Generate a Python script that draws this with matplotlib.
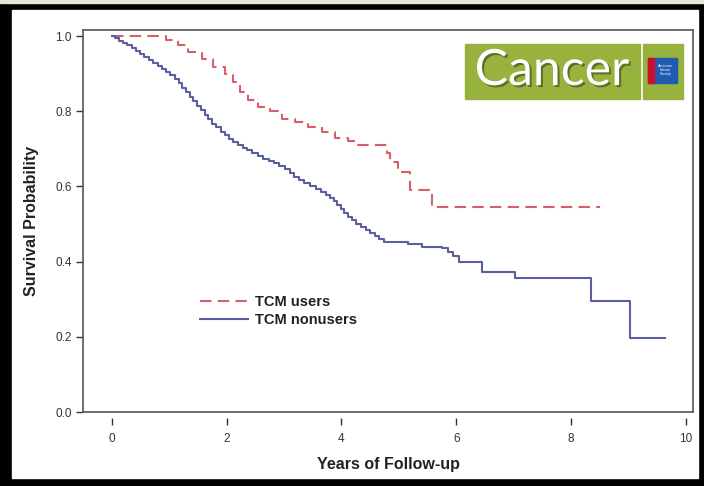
import matplotlib
matplotlib.use("Agg")
import matplotlib.pyplot as plt
import matplotlib.patheffects as pe
from matplotlib.patches import Rectangle

plt.rcParams['font.family'] = ['Liberation Sans', 'DejaVu Sans']

# Kaplan-Meier steps
users_t = [0, 0.95, 1.15, 1.32, 1.57, 1.76, 1.97, 2.11, 2.23, 2.37, 2.54, 2.75, 2.96,
           3.19, 3.41, 3.66, 3.89, 4.11, 4.23, 4.79, 4.84, 4.98, 5.19, 5.57, 8.5]
users_s = [1.0, 0.99, 0.975, 0.957, 0.94, 0.917, 0.90, 0.877, 0.85, 0.83, 0.81, 0.80, 0.78,
           0.77, 0.757, 0.744, 0.73, 0.72, 0.71, 0.69, 0.665, 0.637, 0.59, 0.545, 0.545]

nonusers_t = [0, 0.05, 0.12, 0.2, 0.27, 0.35, 0.42, 0.5, 0.57, 0.65, 0.72, 0.8, 0.87, 0.95,
              1.02, 1.1, 1.17, 1.23, 1.3, 1.36, 1.42, 1.48, 1.55, 1.62, 1.68, 1.75, 1.82, 1.9,
              1.97, 2.05, 2.12, 2.2, 2.28, 2.36, 2.45, 2.55, 2.64, 2.73, 2.82, 2.92, 3.02, 3.1,
              3.18, 3.26, 3.35, 3.45, 3.55, 3.64, 3.73, 3.8, 3.87, 3.93, 3.99, 4.05, 4.11, 4.18,
              4.26, 4.34, 4.42, 4.5, 4.58, 4.66, 4.74, 5.16, 5.4, 5.75, 5.85, 5.95, 6.05, 6.45,
              7.02, 8.34, 9.02, 9.63]
nonusers_s = [1.0, 0.995, 0.988, 0.982, 0.975, 0.968, 0.96, 0.952, 0.944, 0.936, 0.928, 0.92,
              0.912, 0.903, 0.895, 0.885, 0.874, 0.862, 0.85, 0.838, 0.826, 0.814, 0.802, 0.79,
              0.778, 0.767, 0.757, 0.746, 0.736, 0.726, 0.718, 0.711, 0.703, 0.696, 0.689,
              0.681, 0.674, 0.667, 0.661, 0.654, 0.646, 0.636, 0.626, 0.616, 0.608, 0.601,
              0.594, 0.586, 0.578, 0.57, 0.56, 0.55, 0.54, 0.53, 0.519, 0.51, 0.5, 0.492,
              0.484, 0.476, 0.468, 0.46, 0.453, 0.446, 0.44, 0.435, 0.425, 0.415, 0.40, 0.372,
              0.356, 0.295, 0.196, 0.196]

x_ticks = [0, 2, 4, 6, 8, 10]
y_ticks = [0.0, 0.2, 0.4, 0.6, 0.8, 1.0]

W, H = 704, 486
fig = plt.figure(figsize=(7.04, 4.86), dpi=100, facecolor="black")

def px(x0, y0, x1, y1):
    # pixel box -> figure fraction (left, bottom, width, height)
    return x0 / W, 1 - y1 / H, (x1 - x0) / W, (y1 - y0) / H

def add_box(box, color, z):
    l, b, w, h = px(*box)
    fig.patches.append(Rectangle((l, b), w, h, transform=fig.transFigure, color=color, zorder=z))

add_box((0, 0, W, 3), "#e6e6dc", -10)
add_box((12, 10, 698, 478), "white", -10)

ax = fig.add_axes(px(83, 30, 693, 412))
ax.set_facecolor("none")

red = "#d65f6b"
blue = "#5a5f9f"
ax.step(users_t, users_s, where="post", color=red, lw=1.5, dashes=(5.5, 3), label="TCM users")
ax.step(nonusers_t, nonusers_s, where="post", color=blue, lw=1.5, label="TCM nonusers")

ax.set_xlim(-0.5, 10.12)
ax.set_ylim(0, 1.016)
ax.set_xticks(x_ticks)
ax.set_xticklabels([str(v) for v in x_ticks])
ax.set_yticks(y_ticks)
ax.set_yticklabels([f"{v:.1f}" for v in y_ticks])

for s in ax.spines.values():
    s.set_color("#555555")
    s.set_linewidth(1.2)
ax.spines["bottom"].set_position(("outward", 4))
ax.spines["bottom"].set_visible(False)
ax.axhline(0, color="#555555", lw=1.2, clip_on=False, zorder=5)

ax.tick_params(axis="both", colors="#333333", labelsize=8.5, width=1, length=5)
ax.tick_params(axis="x", pad=6)
ax.tick_params(axis="y", pad=3)

ax.set_xlabel("Years of Follow-up", fontsize=11.5, fontweight="bold", color="#222222", labelpad=9)
ax.set_ylabel("Survival Probability", fontsize=11.5, fontweight="bold", color="#222222", labelpad=12)

leg = ax.legend(loc="upper left", bbox_to_anchor=(0.17, 0.34), frameon=False, handlelength=3.3,
                handletextpad=0.5, labelspacing=0.25, prop={"weight": "bold", "size": 10.5})
for t in leg.get_texts():
    t.set_color("#222222")

# journal logo in the corner
green = "#97b23d"
add_box((465, 44, 640, 99), green, 4)
add_box((643, 44, 683, 99), green, 4)
add_box((648, 58, 677, 83), "#1f5bb0", 5)
add_box((648, 58, 654, 83), "#c8102e", 6)
fig.text(666 / W, 1 - 70 / H, "American\nCancer\nSociety", color="white", fontsize=2.6,
         ha="center", va="center", zorder=7, linespacing=1.0)
fig.text(552 / W, 1 - 71 / H, "Cancer", color="white", fontsize=36,
         family=["Lato", "DejaVu Sans"], ha="center", va="center", zorder=7,
         path_effects=[pe.SimplePatchShadow(offset=(1.5, -1.5), shadow_rgbFace="#4f6320", alpha=0.8),
                       pe.Normal()])

fig.savefig("out.png", dpi=100, facecolor=fig.get_facecolor())
